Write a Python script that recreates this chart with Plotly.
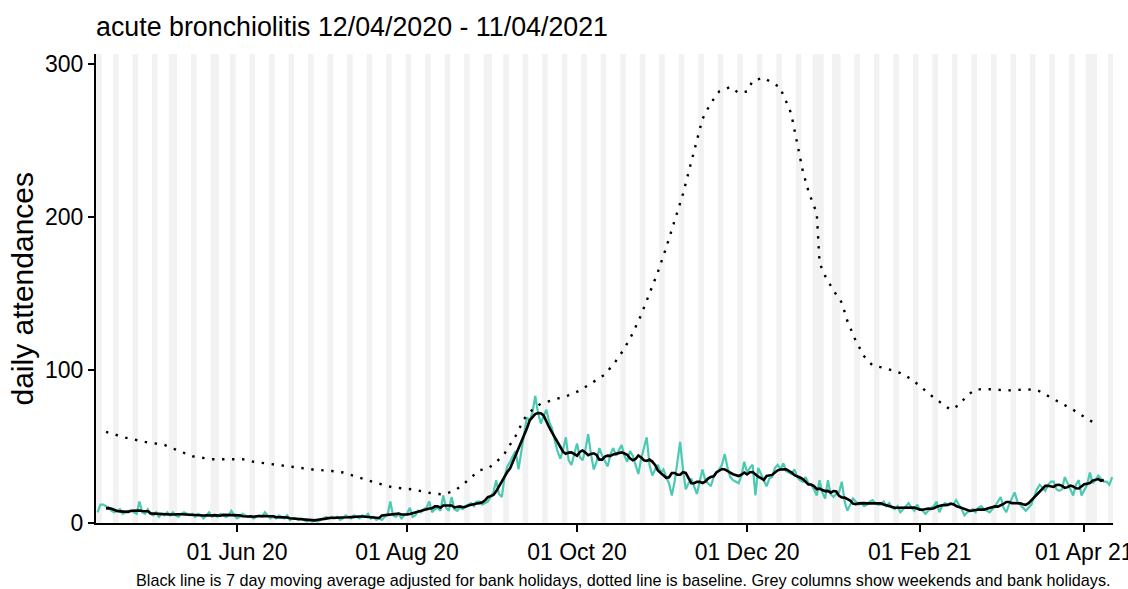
import pandas as pd
import plotly.graph_objects as go

# ---------------- data ----------------
START = "2020-04-12"
TITLE = "acute bronchiolitis 12/04/2020 - 11/04/2021"
Y_TITLE = "daily attendances"
CAPTION = ("Black line is 7 day moving average adjusted for bank holidays, dotted line is baseline. "
           "Grey columns show weekends and bank holidays.")

# daily attendances, one row per week (Sun..Sat), starting Sun 12/04/2020
DAILY = [
    7, 12, 12, 11, 10, 8, 7,
    8, 9, 6, 7, 8, 8, 7,
    6, 14, 7, 6, 9, 6, 5,
    7, 4, 6, 5, 7, 5, 7,
    5, 4, 6, 7, 6, 5, 6,
    4, 6, 5, 3, 5, 7, 4,
    5, 4, 6, 5, 4, 5, 8,
    5, 3, 4, 6, 5, 4, 4,
    3, 4, 5, 4, 7, 5, 3,
    4, 3, 5, 4, 3, 5, 2,
    3, 3, 2, 3, 2, 1, 2,
    1, 2, 1, 2, 3, 4, 3,
    4, 3, 4, 2, 3, 5, 4,
    3, 5, 4, 3, 5, 4, 6,
    3, 4, 2, 3, 2, 4, 5,
    14, 5, 4, 6, 3, 5, 6,
    10, 4, 5, 8, 7, 9, 10,
    14, 7, 9, 10, 8, 18, 10,
    8, 17, 9, 8, 10, 9, 11,
    12, 13, 11, 14, 14, 12, 13,
    14, 17, 20, 28, 19, 17, 30,
    37, 40, 44, 47, 35, 48, 58,
    69, 67, 72, 83, 72, 65, 70,
    74, 66, 62, 54, 47, 42, 48,
    56, 41, 38, 45, 52, 43, 41,
    48, 58, 45, 35, 40, 49, 44,
    40, 37, 45, 49, 44, 48, 51,
    44, 40, 47, 44, 38, 32, 42,
    50, 56, 38, 31, 35, 38, 33,
    35, 30, 26, 18, 27, 40, 53,
    35, 22, 26, 29, 24, 19, 27,
    35, 28, 26, 24, 30, 33, 35,
    38, 45, 36, 30, 28, 27, 26,
    31, 40, 33, 36, 38, 18, 36,
    32, 28, 24, 29, 30, 36, 38,
    35, 39, 34, 33, 32, 35, 30,
    28, 27, 30, 26, 25, 22, 18,
    28, 20, 16, 28, 19, 17, 19,
    20, 27, 14, 8, 12, 16, 14,
    12, 13, 11, 12, 14, 15, 13,
    12, 12, 14, 11, 13, 10, 9,
    11, 7, 9, 11, 13, 10, 8,
    12, 9, 8, 6, 8, 10, 11,
    14, 7, 11, 13, 12, 13, 12,
    15, 12, 9, 5, 7, 8, 9,
    7, 10, 11, 9, 8, 7, 9,
    11, 14, 17, 10, 7, 12, 16,
    20, 14, 12, 10, 8, 10, 12,
    17, 22, 25, 23, 21, 25, 27,
    27, 22, 21, 22, 30, 26, 22,
    18, 25, 28, 18, 22, 25, 33,
    26, 28, 31, 29, 27, 27, 25,
    30,
]

# baseline (days after start, value)
BASELINE_DAY = [
    3, 10, 17, 24, 28, 34, 41, 52, 56, 63, 70, 77, 84, 88, 92, 95, 99, 106, 113, 120,
    124, 128, 131, 134, 137, 140, 143, 146, 148, 150, 153, 156, 159, 163, 166, 170, 173,
    176, 179, 182, 186, 189, 192, 195, 198, 201, 204, 207, 210, 213, 215, 216, 217, 219,
    221, 223, 227, 230, 233, 235, 239, 242, 245, 246, 248, 249, 250, 251, 253, 255, 257,
    258, 259, 261, 264, 267, 269, 272, 275, 278, 283, 288, 292, 294, 297, 300, 303, 306,
    309, 312, 315, 318, 322, 325, 329, 333, 337, 340, 343, 346, 350, 353, 356, 359,
]
BASELINE_VALUE = [
    59.5, 55.8, 53, 51, 48, 43.6, 41.7, 41.7, 40, 38.2, 36.7, 35, 34, 33, 30.8, 28.9, 26.7, 23.2, 22, 19.3,
    18.7, 21, 25, 29.8, 34.5, 35.6, 39.7, 45.4, 50.8, 57, 68, 74, 78, 80, 82, 84, 86.6,
    90, 93.6, 97, 106, 114, 124, 136, 150, 164, 180, 197, 215, 236, 251, 258, 264, 271,
    277, 282, 285, 281, 282, 289, 291, 287.5, 284.7, 279, 272, 266, 256, 248, 230, 217, 207,
    203, 170, 161.5, 152, 144, 132, 119, 109, 103, 101, 98, 94, 91, 86.2, 81.9, 78, 74,
    77, 83.4, 87.3, 87.3, 87.5, 86.5, 87, 87.3, 87, 84, 80.8, 77.5, 74, 70.4, 67, 64.3,
]

BANK_HOLIDAYS = [
    "2020-04-13", "2020-05-08", "2020-05-25", "2020-08-31", "2020-12-25",
    "2020-12-28", "2021-01-01", "2021-04-02", "2021-04-05",
]

TICK_DATES = ["2020-06-01", "2020-08-01", "2020-10-01", "2020-12-01", "2021-02-01", "2021-04-01"]
TICK_LABELS = ["01 Jun 20", "01 Aug 20", "01 Oct 20", "01 Dec 20", "01 Feb 21", "01 Apr 21"]
Y_TICKS = [0, 100, 200, 300]

# ---------------- derived ----------------
start = pd.Timestamp(START)
dates = pd.date_range(start, periods=len(DAILY), freq="D")
daily = pd.Series(DAILY, index=dates, dtype=float)
ma7 = daily.rolling(7, center=True).mean()
base_dates = start + pd.to_timedelta(BASELINE_DAY, unit="D")

bh = set(pd.to_datetime(BANK_HOLIDAYS))
grey_days = [d for d in dates if d.dayofweek >= 5 or d in bh]

GREY = "#f2f2f2"
half = pd.Timedelta(hours=12)
shapes = []
run = []


def add_col(r):
    shapes.append(dict(type="rect", xref="x", yref="paper", x0=r[0] - half, x1=r[-1] + half,
                       y0=0, y1=1, fillcolor=GREY, line_width=0, layer="below"))


for d in grey_days:
    if run and (d - run[-1]) != pd.Timedelta(days=1):
        add_col(run)
        run = []
    run.append(d)
if run:
    add_col(run)

FONT = "Liberation Sans, Arial, sans-serif"

fig = go.Figure()
fig.add_trace(go.Scatter(x=dates, y=daily, mode="lines",
                         line=dict(color="#4cc9b3", width=2.2), showlegend=False))
fig.add_trace(go.Scatter(x=base_dates, y=BASELINE_VALUE, mode="lines",
                         line=dict(color="black", width=2.4, dash="2.4px,7.6px"), showlegend=False))
fig.add_trace(go.Scatter(x=dates, y=ma7, mode="lines",
                         line=dict(color="black", width=2.6), showlegend=False))

x0 = start - pd.Timedelta(hours=14)
x1 = start + pd.Timedelta(days=364, hours=7)

fig.update_layout(
    width=1128, height=589,
    margin=dict(l=96, r=15, t=54, b=66, autoexpand=False),
    paper_bgcolor="white", plot_bgcolor="white",
    font=dict(family=FONT, color="black"),
    shapes=shapes,
    title=dict(text=TITLE, font=dict(size=26.8, color="black"), xref="paper", x=0, xanchor="left",
               yref="container", y=1 - 27 / 589, yanchor="middle"),
    xaxis=dict(type="date", range=[x0, x1], showgrid=False, zeroline=False,
               showline=True, linecolor="black", linewidth=2, automargin=False,
               ticks="outside", ticklen=7, tickwidth=2, tickcolor="black",
               tickvals=pd.to_datetime(TICK_DATES), ticktext=TICK_LABELS,
               ticklabeloverflow="allow",
               tickfont=dict(size=23, color="black")),
    yaxis=dict(range=[0, 306.5], showgrid=False, zeroline=False, automargin=False,
               showline=True, linecolor="black", linewidth=2,
               ticks="outside", ticklen=6, tickwidth=2, tickcolor="black",
               tickvals=Y_TICKS, tickfont=dict(size=23, color="black")),
    annotations=[
        dict(text=Y_TITLE, textangle=-90, xref="paper", yref="paper",
             x=(22 - 96) / 1017, y=0.5, xanchor="center", yanchor="middle",
             showarrow=False, font=dict(size=30, color="black")),
        dict(text=CAPTION, xref="paper", yref="paper", x=1, y=-(580 - 523) / 469,
             xanchor="right", yanchor="middle", showarrow=False,
             font=dict(size=16.2, color="black")),
    ],
)

fig.write_html("out.html", config={"displayModeBar": False},
               post_script="document.body.style.margin='0';")
